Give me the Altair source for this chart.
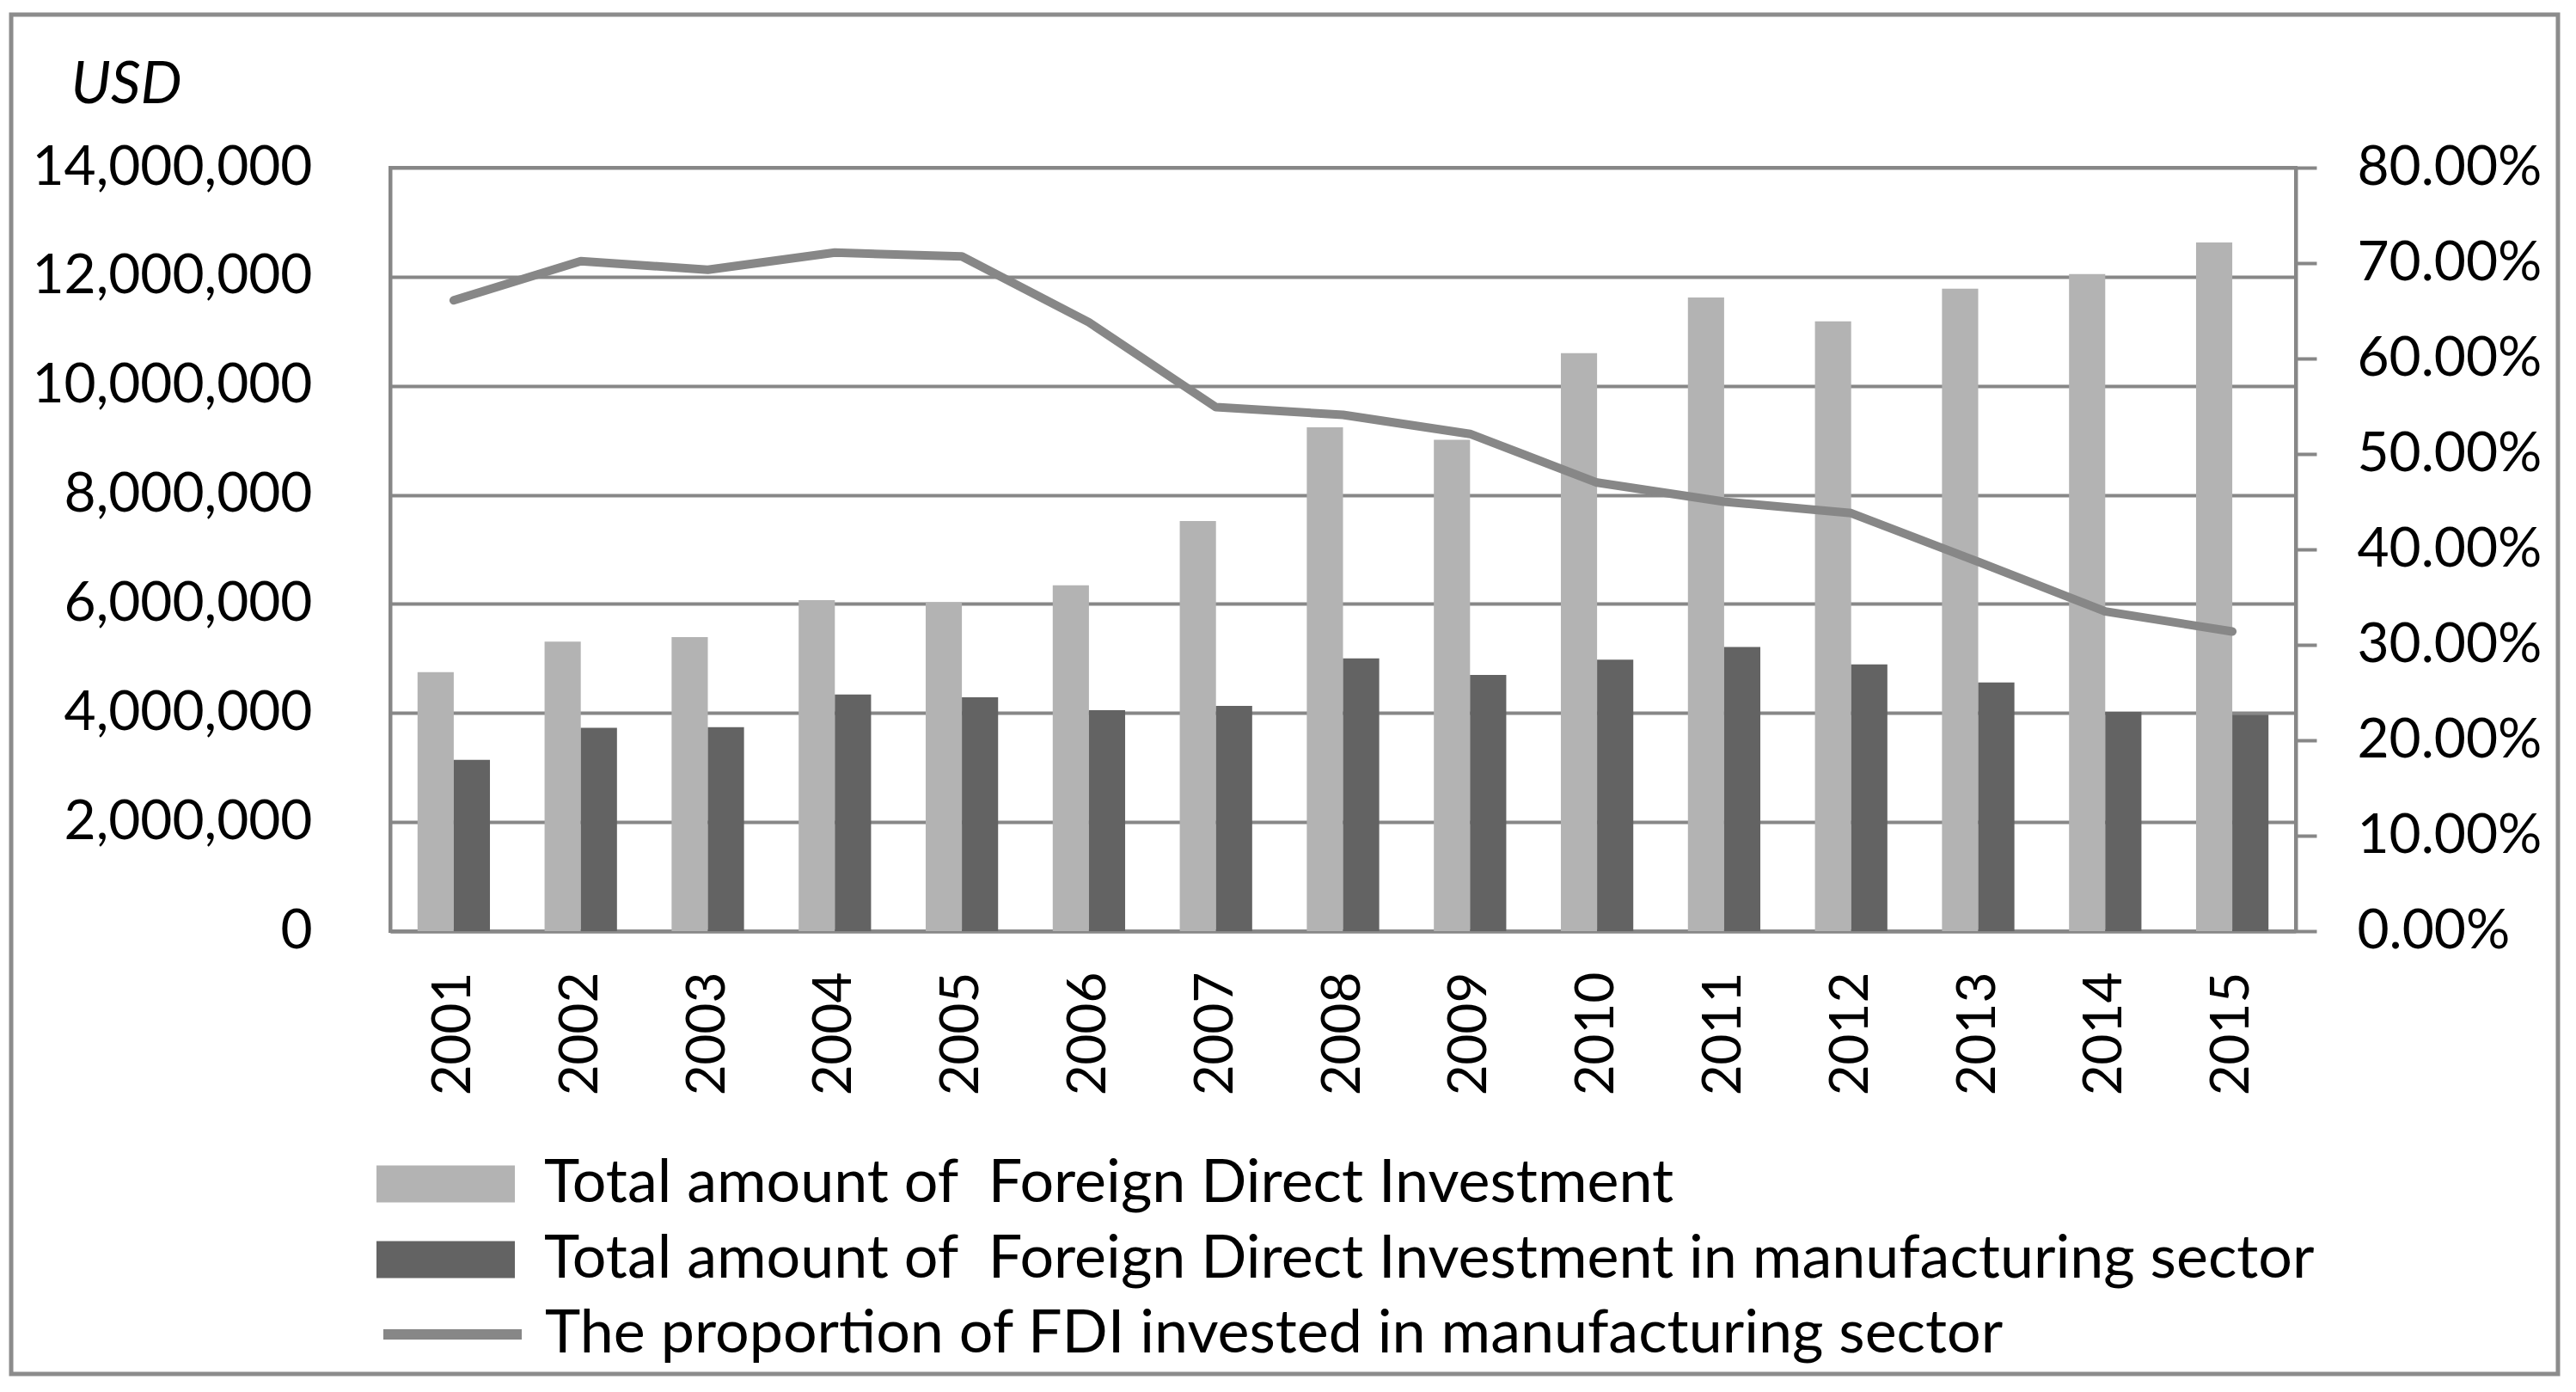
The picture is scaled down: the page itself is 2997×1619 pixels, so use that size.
import altair as alt
import pandas as pd

years = [str(y) for y in range(2001, 2016)]
total_fdi = [4750000, 5310000, 5390000, 6070000, 6030000, 6340000, 7520000, 9240000,
             9010000, 10600000, 11620000, 11180000, 11780000, 12050000, 12630000]
manuf_fdi = [3140000, 3730000, 3740000, 4340000, 4290000, 4050000, 4130000, 5000000,
             4700000, 4980000, 5210000, 4890000, 4560000, 4020000, 3970000]
share_pct = [66.1, 70.2, 69.3, 71.1, 70.7, 63.8, 54.9, 54.1, 52.1, 47.0, 45.0, 43.8, 38.7, 33.5, 31.4]

s_total = "Total amount of\u00a0 Foreign Direct Investment"
s_manuf = "Total amount of\u00a0 Foreign Direct Investment in manufacturing sector"
s_share = "The proportion of FDI invested in manufacturing sector"
bar_series = [s_total, s_manuf]
bar_colors = ["#b3b3b3", "#636363"]
line_color = "#878787"
grid_color = "#878787"

bars_df = pd.DataFrame({
    "year": years * 2,
    "series": [s_total] * len(years) + [s_manuf] * len(years),
    "value": total_fdi + manuf_fdi,
})
line_df = pd.DataFrame({
    "year": years,
    "series": [s_share] * len(years),
    "share": [v / 100 for v in share_pct],
})

FONT = "Lato"
FS = 64
LFS = 70

x_enc = alt.X(
    "year:N", sort=years, title=None,
    scale=alt.Scale(paddingInner=0.43, paddingOuter=0.215),
    axis=alt.Axis(labelAngle=270, labelFont=FONT, labelFontSize=62, labelColor="black",
                  labelPadding=47, ticks=False, tickSize=0, domainColor=grid_color,
                  domainWidth=4, grid=False, labelLimit=1000),
)

bars = alt.Chart(bars_df).mark_bar().encode(
    x=x_enc,
    xOffset=alt.XOffset("series:N", sort=bar_series, scale=alt.Scale(domain=bar_series, paddingInner=0, paddingOuter=0)),
    y=alt.Y("value:Q",
            scale=alt.Scale(domain=[0, 14000000], nice=False),
            axis=alt.Axis(values=list(range(0, 14000001, 2000000)), format=",.0f",
                          title="USD", titleAngle=0, titleAlign="left", titleBaseline="alphabetic",
                          titleX=-372, titleY=-76, titleFont=FONT, titleFontSize=68,
                          titleFontStyle="italic", titleFontWeight="normal", titleColor="black",
                          labelFont=FONT, labelFontSize=FS, labelColor="black", labelPadding=91,
                          labelLimit=1000,
                          ticks=False, tickSize=0, domainColor=grid_color, domainWidth=4,
                          grid=True, gridColor=grid_color, gridWidth=4)),
    color=alt.Color("series:N", sort=bar_series,
                    scale=alt.Scale(domain=bar_series, range=bar_colors),
                    legend=alt.Legend(title=None, orient="none", legendX=-16, legendY=1138,
                                      direction="vertical", padding=0, rowPadding=0,
                                      clipHeight=88,
                                      symbolType="M-1,-0.267L1,-0.267L1,0.267L-1,0.267Z",
                                      symbolSize=25921, symbolStrokeWidth=0, symbolOpacity=1,
                                      labelFont=FONT, labelFontSize=LFS, labelColor="black",
                                      labelOffset=34, labelLimit=3000)),
)

line = alt.Chart(line_df).mark_line(strokeWidth=10, strokeCap="round", strokeJoin="round").encode(
    x=alt.X("year:N", sort=years, bandPosition=0.5),
    y=alt.Y("share:Q",
            scale=alt.Scale(domain=[0, 0.8], nice=False),
            axis=alt.Axis(orient="right", values=[i / 10 for i in range(9)], format=".2%",
                          title=None, labelFont=FONT, labelFontSize=FS, labelColor="black",
                          labelPadding=47, labelLimit=1000, ticks=True, tickSize=24, tickWidth=4,
                          tickColor=grid_color, domainColor=grid_color, domainWidth=4,
                          grid=False)),
    stroke=alt.Stroke("series:N",
                      scale=alt.Scale(domain=[s_share], range=[line_color]),
                      legend=alt.Legend(title=None, orient="none", legendX=-14, legendY=1313,
                                        direction="vertical", padding=0, rowPadding=0,
                                        clipHeight=88, symbolType="stroke", symbolSize=25921,
                                        symbolStrokeWidth=12,
                                        labelFont=FONT, labelFontSize=LFS, labelColor="black",
                                        labelOffset=21, labelLimit=3000)),
)

frame = alt.Chart(pd.DataFrame({"k": [0]})).mark_rect(
    fill=None, stroke="#8c8c8c", strokeWidth=5
).encode(
    x=alt.value(-441), x2=alt.value(2522), y=alt.value(-178), y2=alt.value(1403)
)

chart = alt.layer(frame, bars, line).resolve_scale(
    y="independent", color="independent", stroke="independent"
).properties(
    width=2217, height=888,
    autosize=alt.AutoSizeParams(type="none"),
    padding={"left": 446, "top": 187, "right": 318, "bottom": 528},
    background="white",
).configure_view(
    stroke=grid_color, strokeWidth=4
)

chart.save("out.html", embed_options={"renderer": "svg", "actions": False})
